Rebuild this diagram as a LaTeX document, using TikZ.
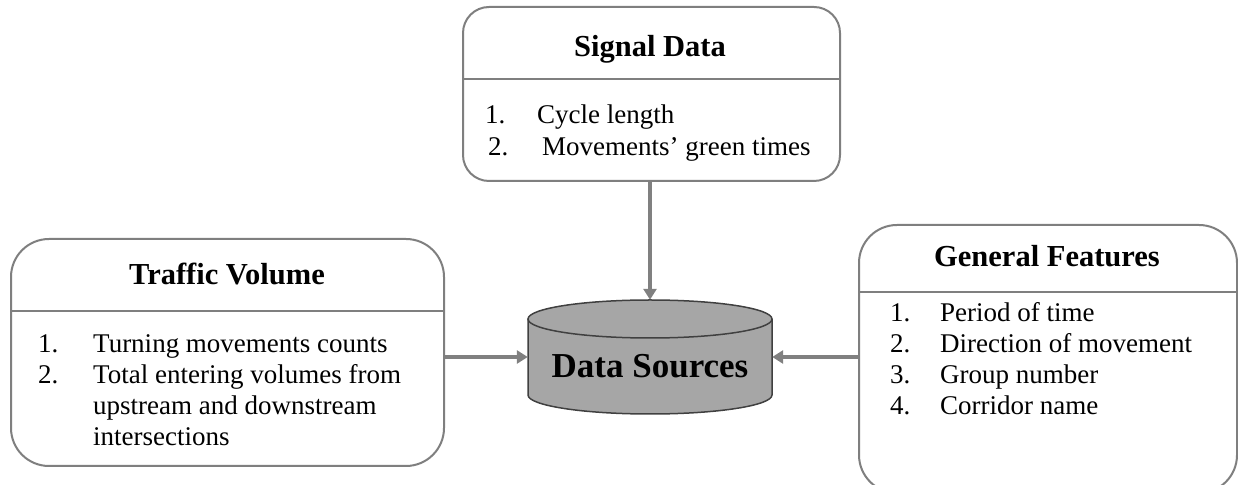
\documentclass[tikz,border=0pt]{standalone}
\usepackage{fontspec}
\setmainfont{Liberation Serif}
\usetikzlibrary{arrows.meta}
\definecolor{framegray}{HTML}{7F7F7F}
\definecolor{arrowgray}{HTML}{808080}
\definecolor{drumfill}{HTML}{A6A6A6}
\definecolor{drumline}{HTML}{404040}
\tikzset{
  panel/.style={draw=framegray, line width=2pt, fill=white, anchor=south west, inner sep=0pt},
  rule/.style={draw=framegray, line width=2pt},
  heading/.style={font=\fontsize{30.5}{36}\selectfont\bfseries, anchor=base, inner sep=0pt},
  item/.style={font=\fontsize{27}{31}\selectfont, anchor=base west, inner sep=0pt},
  feed/.style={draw=arrowgray, line width=4pt, -{Triangle[width=13pt,length=11pt]}},
  drumedge/.style={draw=drumline, line width=1.5pt},
}
\begin{document}
\begin{tikzpicture}[x=1pt,y=1pt]
\useasboundingbox (0,0) rectangle (1238,484);

% ---- Signal data panel ----
\node[panel, rounded corners=26pt, minimum width=377pt, minimum height=174pt] (sig) at (462,302) {};
\coordinate (sigcut) at (0,405);
\draw[rule] (sig.west |- sigcut) -- (sig.east |- sigcut);
\node[heading] (sigtitle) at (650,427) {Signal Data};
\node[item] (sign1) at (485,360) {1.};
\node[item] (sigt1) at (537,360) {Cycle length};
\node[item] (sign2) at (488,328) {2.};
\node[item] (sigt2) at (542,328) {Movements’ green times};

% ---- Traffic volume panel ----
\node[panel, rounded corners=38pt, minimum width=433pt, minimum height=227pt] (trf) at (10,17) {};
\coordinate (trfcut) at (0,173);
\draw[rule] (trf.west |- trfcut) -- (trf.east |- trfcut);
\node[heading] (trftitle) at (227,199) {Traffic Volume};
\node[item] (trfn1) at (38,131) {1.};
\node[item] (trft1) at (93,131) {Turning movements counts};
\node[item] (trfn2) at (38,100) {2.};
\node[item] (trft2) at (93,100) {Total entering volumes from};
\node[item] (trft3) at (93,69) {upstream and downstream};
\node[item] (trft4) at (93,38) {intersections};

% ---- General features panel ----
\node[panel, rounded corners=38pt, minimum width=378pt, minimum height=268pt] (gen) at (858,-10) {};
\coordinate (gencut) at (0,192);
\draw[rule] (gen.west |- gencut) -- (gen.east |- gencut);
\node[heading] (gentitle) at (1047,217) {General Features};
\node[item] (genn1) at (890,162) {1.};
\node[item] (gent1) at (940,162) {Period of time};
\node[item] (genn2) at (890,131) {2.};
\node[item] (gent2) at (940,131) {Direction of movement};
\node[item] (genn3) at (890,100) {3.};
\node[item] (gent3) at (940,100) {Group number};
\node[item] (genn4) at (890,69) {4.};
\node[item] (gent4) at (940,69) {Corridor name};

% ---- Data store drum ----
\fill[drumfill] (528,165) -- (528,89)
  arc[start angle=180, end angle=360, x radius=122, y radius=19]
  -- (772,165)
  arc[start angle=0, end angle=180, x radius=122, y radius=19] -- cycle;
\draw[drumedge] (528,165) -- (528,89)
  arc[start angle=180, end angle=360, x radius=122, y radius=19]
  -- (772,165);
\draw[drumedge] (650,165) ellipse[x radius=122, y radius=19];
\node[minimum width=244pt, minimum height=114pt, inner sep=0pt] (ds) at (650,127) {};
\node[font=\fontsize{35}{40}\selectfont\bfseries, anchor=base, inner sep=0pt] (dstitle) at (650,106) {Data Sources};

% ---- Feeds into the store ----
\draw[feed] (sig.south -| ds.north) -- (ds.north);
\draw[feed] (trf.east |- ds.west) -- (ds.west);
\draw[feed] (gen.west |- ds.east) -- (ds.east);
\end{tikzpicture}
\end{document}
